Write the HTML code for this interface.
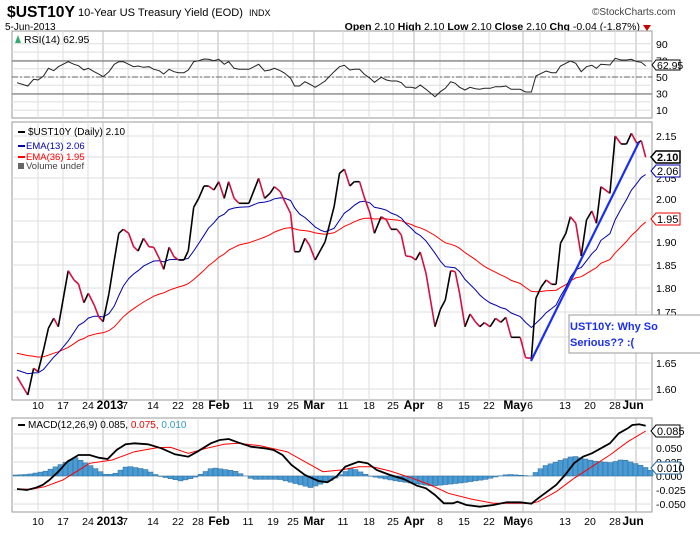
<!DOCTYPE html>
<html><head><meta charset="utf-8"><style>
body{margin:0;background:#fff;width:700px;height:530px;overflow:hidden;font-family:"Liberation Sans",sans-serif}
</style></head><body>
<svg id="s" width="700" height="530" xmlns="http://www.w3.org/2000/svg" font-family="Liberation Sans, sans-serif"></svg>
<script>
const S=document.getElementById('s');let h='';
const L=12,R=652;
function pts(a,fx,fy){return a.map(p=>[p[0]/2.23,fy(p[1])]);}
function pl(p,c,w,extra){return `<polyline fill="none" stroke="${c}" stroke-width="${w}" ${extra||''} points="${p.map(q=>q[0].toFixed(1)+','+q[1].toFixed(1)).join(' ')}"/>`;}
function txt(x,y,t,sz,c,extra){return `<text x="${x}" y="${y}" font-size="${sz}" fill="${c||'#000'}" ${extra||''}>${t}</text>`;}
// header
h+=txt(7,17,'$UST10Y',16,'#000','font-weight="bold" textLength="68" lengthAdjust="spacingAndGlyphs"');
h+=txt(78,16,'10-Year US Treasury Yield (EOD)',11,'#000','textLength="165" lengthAdjust="spacingAndGlyphs"');
h+=txt(249,16,'INDX',9,'#000');
h+=txt(592,15,'©StockCharts.com',10,'#444');
h+=txt(5,30,'5-Jun-2013',10,'#000');
h+=`<text x="640" y="30" font-size="10.5" text-anchor="end"><tspan font-weight="bold">Open</tspan> 2.10 <tspan font-weight="bold">High</tspan> 2.10 <tspan font-weight="bold">Low</tspan> 2.10 <tspan font-weight="bold">Close</tspan> 2.10 <tspan font-weight="bold">Chg</tspan> -0.04 (-1.87%)</text>`;
h+=`<polygon points="643,25 651,25 647,31" fill="#c00"/>`;
const xs=[[38,'10'],[63,'17'],[88,'24'],[110,'2013',1],[125,'7'],[153,'14'],[178,'22'],[198,'28'],[219,'Feb',1],[248,'11'],[273,'19'],[293,'25'],[314,'Mar',1],[343,'11'],[369,'18'],[393,'25'],[414,'Apr',1],[440,'8'],[464,'15'],[489,'22'],[515,'May',1],[530,'6'],[565,'13'],[590,'20'],[615,'28'],[633,'Jun',1]];
const gx=[38,63,88,103,128,153,178,198,218,248,273,293,314,343,369,393,414,440,464,489,523,540,565,590,615,636];
const monthG=[103,218,314,414,523,636];
function panel(top,bot,ticks){
 h+=`<rect x="${L}" y="${top}" width="${R-L}" height="${bot-top}" fill="#fff" stroke="#999"/>`;
 gx.forEach(x=>{h+=`<line x1="${x}" y1="${top}" x2="${x}" y2="${bot}" stroke="${monthG.includes(x)?'#bbb':'#ddd'}"/>`;});
 ticks.forEach(t=>{h+=`<line x1="${L}" y1="${t[0]}" x2="${R}" y2="${t[0]}" stroke="#ddd"/>`;if(t[1])h+=txt(656,t[0]+4,t[1],10.5,'#000');});
}
function xlabels(y){xs.forEach(a=>{h+=txt(a[0],y,a[1],a[2]?12:10.5,'#000',`text-anchor="middle" ${a[2]?'font-weight="bold"':''}`);});}
// RSI
const ry=v=>77-(v-50)*0.83;
panel(31,118,[[ry(90),'90'],[ry(70),'70'],[ry(50),'50'],[ry(30),'30'],[ry(10),'10'],[ry(80)],[ry(60)],[ry(40)],[ry(20)]]);
h+=`<line x1="${L}" y1="61" x2="${R}" y2="61" stroke="#666"/><line x1="${L}" y1="94" x2="${R}" y2="94" stroke="#666"/><line x1="${L}" y1="77" x2="${R}" y2="77" stroke="#666" stroke-dasharray="6,2,2,2"/>`;
const rsi=[[38,248],[62,258],[75,238],[85,240],[97,228],[108,205],[120,212],[130,200],[152,185],[165,193],[175,197],[187,210],[197,205],[210,215],[220,222],[230,230],[243,215],[255,193],[265,185],[275,185],[287,193],[298,200],[308,198],[320,202],[332,200],[343,208],[355,212],[365,222],[377,208],[388,215],[398,218],[410,218],[420,210],[432,185],[443,182],[455,177],[465,178],[477,182],[488,178],[500,193],[510,185],[522,205],[533,208],[555,208],[577,193],[590,213],[602,210],[612,205],[625,212],[635,220],[648,235],[657,258],[668,258],[680,245],[690,252],[703,262],[715,252],[725,243],[745,215],[757,200],[768,196],[780,210],[790,208],[802,208],[812,222],[825,235],[835,247],[850,232],[862,240],[872,243],[885,243],[895,248],[905,262],[917,262],[927,265],[937,255],[950,268],[970,290],[982,275],[993,265],[1005,245],[1015,250],[1025,262],[1037,270],[1048,262],[1060,266],[1070,268],[1080,265],[1093,265],[1105,260],[1117,260],[1128,258],[1140,268],[1160,268],[1172,276],[1185,276],[1195,228],[1207,220],[1218,213],[1230,218],[1240,218],[1250,198],[1262,190],[1272,183],[1284,190],[1296,215],[1308,200],[1320,196],[1330,205],[1340,193],[1360,195],[1372,175],[1385,180],[1397,180],[1408,178],[1420,185],[1430,187],[1440,198]];
h+=pl(pts(rsi,0,y=>y/3),'#222',1);
h+=txt(24,43,'RSI(14) 62.95',10.5,'#000');
h+=`<polygon points="15,43 18,35 21,43" fill="#3a7"/>`;
h+=`<polygon points="652,65 656,60 680,60 680,70 656,70" fill="#fff" stroke="#000"/>`+txt(657,69,'62.95',10.5,'#000');
// MAIN
const anc=[[2.15,136],[2.10,157],[2.05,178],[2.00,199],[1.95,221],[1.90,242],[1.85,265],[1.80,288],[1.75,312],[1.70,337],[1.65,363],[1.60,389]];
const mt=anc.map(a=>[a[1],a[0].toFixed(2)]);
panel(122,400,mt);
xlabels(409);
const pr=[[38,770],[62,825],[75,745],[85,755],[97,690],[108,625],[120,595],[130,620],[152,452],[165,480],[175,492],[187,548],[197,520],[210,555],[220,590],[230,605],[243,520],[255,420],[265,340],[275,328],[287,340],[298,380],[308,393],[320,355],[332,380],[343,382],[355,415],[365,448],[377,382],[388,410],[398,420],[410,420],[420,392],[432,262],[443,235],[455,198],[465,198],[477,210],[488,185],[500,235],[510,185],[522,235],[533,250],[555,250],[577,175],[590,235],[602,220],[612,200],[625,215],[635,245],[648,280],[657,395],[668,395],[680,355],[690,375],[703,420],[715,390],[725,365],[745,260],[757,160],[768,148],[780,198],[790,185],[802,185],[812,230],[825,280],[835,340],[850,290],[862,300],[872,328],[885,328],[895,345],[905,408],[917,410],[927,420],[937,396],[950,460],[970,620],[982,568],[993,540],[1005,452],[1015,455],[1025,520],[1037,620],[1048,582],[1060,605],[1070,620],[1080,608],[1093,620],[1105,595],[1117,607],[1128,592],[1140,652],[1160,652],[1172,713],[1185,715],[1195,535],[1207,500],[1218,480],[1230,493],[1240,493],[1250,370],[1262,340],[1272,290],[1284,310],[1296,408],[1308,300],[1320,273],[1330,310],[1340,200],[1360,220],[1372,48],[1385,72],[1397,72],[1408,40],[1420,70],[1430,62],[1440,112]];
const P=pts(pr,0,y=>y/3+120);
function ema(n,seed){let k=2/(n+1),e=seed,o=[];P.forEach(p=>{e=e+k*(p[1]-e);o.push([p[0],e]);});return o;}
const e13=ema(13,369),e36=ema(36,352);
h+=pl(e36,'#f00',1);
h+=pl(e13,'#00a',1);
for(let i=1;i<P.length;i++){const a=P[i-1],b=P[i];h+=`<line x1="${a[0].toFixed(1)}" y1="${a[1].toFixed(1)}" x2="${b[0].toFixed(1)}" y2="${b[1].toFixed(1)}" stroke="${b[1]<=a[1]?'#000':'#d01040'}" stroke-width="1.6"/>`;}
h+=`<line x1="531" y1="361" x2="639" y2="142" stroke="#1a2ef0" stroke-width="2.2"/>`;
h+=`<rect x="569" y="315" width="140" height="38" fill="#fff" stroke="#999"/>`;
h+=txt(570,330,'UST10Y: Why So',11,'#1a2ef0','font-weight="bold"')+txt(570,346,'Serious?? :(',11,'#1a2ef0','font-weight="bold"');
h+=`<rect x="18" y="131" width="7" height="2" fill="#000"/>`+txt(28,135,'$UST10Y (Daily) 2.10',10,'#000');
h+=`<rect x="18" y="145" width="7" height="2" fill="#00a"/>`+txt(26,149,'EMA(13) 2.06',9.5,'#00a');
h+=`<rect x="18" y="156" width="7" height="2" fill="#f00"/>`+txt(26,160,'EMA(36) 1.95',9.5,'#f00');
h+=`<rect x="18" y="163" width="6" height="6" fill="#666"/>`+txt(26,169,'Volume undef',9.5,'#444');
function tag(y,t,c,b){h+=`<polygon points="651,${y} 656,${y-6} 680,${y-6} 680,${y+6} 656,${y+6}" fill="#fff" stroke="${c}" stroke-width="${b?1.5:1}"/>`+txt(657,y+4,t,11,'#000',b?'font-weight="bold"':'');}
tag(157,'2.10','#000',1);tag(171,'2.06','#00a');tag(219,'1.95','#e00');
// MACD
const cy=v=>476-v*560;
panel(418,512,[[cy(0.075)],[cy(0.05),'0.050'],[cy(0.025),'0.025'],[cy(0),'0.000'],[cy(-0.025),'-0.025'],[cy(-0.05),'-0.050']]);
xlabels(525);
const hk=[[30,3],[60,5],[100,15],[165,55],[200,30],[230,5],[250,5],[280,30],[320,20],[350,0],[400,-15],[430,-5],[470,25],[520,15],[560,-10],[620,-10],[690,-35],[740,-10],[780,25],[820,0],[880,-15],[960,-30],[1030,-20],[1080,-10],[1110,0],[1130,5],[1180,0],[1210,30],[1275,60],[1320,45],[1360,40],[1385,50],[1430,30],[1450,15]];
function interp(x){for(let i=1;i<hk.length;i++){if(x<=hk[i][0]){const a=hk[i-1],b=hk[i];return a[1]+(b[1]-a[1])*(x-a[0])/(b[0]-a[0]);}}return 15;}
for(let x=L+1;x<R-1;x+=5){const v=interp(x*2.23+2)/3;const y0=476;h+=`<rect x="${x}" y="${v>0?y0-v:y0}" width="5" height="${Math.abs(v)}" fill="#4a9bd4" stroke="#2a6a9a" stroke-width="0.5"/>`;}
const sg=[[38,282],[70,283],[100,275],[140,255],[170,230],[200,205],[250,195],[300,170],[350,158],[380,157],[420,175],[460,160],[500,148],[530,145],[580,152],[640,170],[680,200],[720,230],[760,225],[800,215],[830,215],[870,228],[920,250],[960,270],[1000,295],[1050,312],[1100,325],[1150,325],[1185,325],[1200,320],[1240,290],[1280,250],[1320,215],[1360,180],[1400,140],[1440,108]];
const md=[[38,282],[60,285],[80,278],[95,270],[110,255],[130,230],[150,200],[175,180],[200,180],[220,188],[240,192],[260,165],[280,148],[300,145],[330,148],[360,160],[390,178],[420,185],[440,170],[470,145],[490,135],[510,132],[530,142],[560,155],[590,160],[610,165],[630,180],[650,210],[680,240],[710,258],[730,262],[750,245],[770,215],[800,200],[820,205],[840,225],[870,240],[900,252],[930,272],[950,280],[970,300],[990,325],[1010,325],[1020,320],[1040,330],[1070,335],[1100,330],[1130,322],[1160,322],[1185,326],[1200,310],[1220,290],[1240,270],[1260,240],[1280,205],[1300,185],[1320,175],[1340,160],[1360,145],[1380,115],[1400,100],[1410,90],[1425,88],[1440,92]];
h+=pl(pts(sg,0,y=>y/3+395),'#f00',1);
h+=pl(pts(md,0,y=>y/3+395),'#000',1.8);
h+=`<rect x="18" y="424" width="7" height="2" fill="#000"/>`+`<text x="28" y="428" font-size="10">MACD(12,26,9) 0.085, <tspan fill="#e00">0.075,</tspan> <tspan fill="#3399cc">0.010</tspan></text>`;
tag(431,'0.085','#000');
tag(468,'0.010','#2a6a9a');
S.innerHTML=h;
</script>
</body></html>
